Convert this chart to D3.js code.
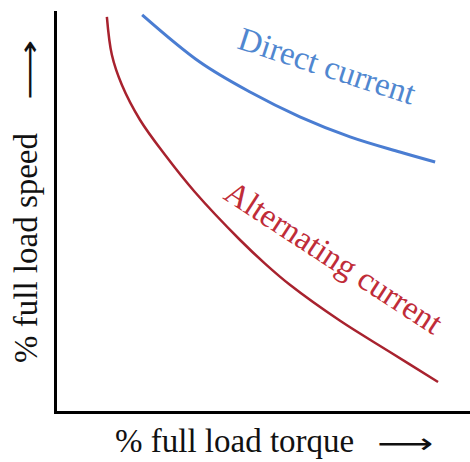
<!DOCTYPE html>
<meta charset="utf-8">
<head>
<style>
  body { margin: 0; background: #fff; }
  .axis path { stroke: #000; stroke-width: 3; fill: none; }
  .label { font-family: "Liberation Serif", "Times New Roman", Times, serif; font-size: 33px; }
  .arrow { font-family: "DejaVu Sans", sans-serif; }
</style>
</head>
<body>
<script src="https://cdnjs.cloudflare.com/ajax/libs/d3/7.8.5/d3.min.js"></script>
<script>

// % full load torque (x) and % full load speed (y)
const dcTorque = [21.0, 34.9, 47.0, 59.0, 71.1, 83.1, 91.6];
const dcSpeed  = [99.3, 87.5, 80.0, 73.8, 68.8, 65.0, 62.5];

const acTorque = [12.5, 13.7, 16.1, 20.5, 26.5, 33.7, 44.6, 50.6, 56.6, 68.7, 80.7, 92.3];
const acSpeed  = [98.8, 89.3, 81.8, 73.0, 64.3, 55.0, 43.0, 37.1, 31.8, 22.8, 15.0, 7.5];

const xLabel = "% full load torque";
const yLabel = "% full load speed";
const dcLabel = "Direct current";
const acLabel = "Alternating current";

const W = 470, H = 462;
const margin = {top: 12, right: 0, bottom: 50, left: 55};

const x = d3.scaleLinear().domain([0, 100]).range([margin.left, W - margin.right]);
const y = d3.scaleLinear().domain([0, 100]).range([H - margin.bottom, margin.top]);

const svg = d3.select("body").append("svg")
  .attr("width", W)
  .attr("height", H);

// axes: bare lines, no ticks
svg.append("g")
  .attr("class", "axis")
  .attr("transform", "translate(" + margin.left + ",0)")
  .call(d3.axisLeft(y).ticks(0).tickSizeOuter(0));

svg.append("g")
  .attr("class", "axis")
  .attr("transform", "translate(0," + (H - margin.bottom) + ")")
  .call(d3.axisBottom(x).ticks(0).tickSizeOuter(0));

svg.selectAll(".axis path").attr("stroke-linecap", "square");

const line = d3.line()
  .x(d => x(d[0]))
  .y(d => y(d[1]))
  .curve(d3.curveCatmullRom);

svg.append("path")
  .datum(d3.zip(dcTorque, dcSpeed))
  .attr("fill", "none")
  .attr("stroke", "#4a7dd2")
  .attr("stroke-width", 3)
  .attr("d", line);

svg.append("path")
  .datum(d3.zip(acTorque, acSpeed))
  .attr("fill", "none")
  .attr("stroke", "#a8222e")
  .attr("stroke-width", 2.5)
  .attr("d", line);

// curve labels
svg.append("text")
  .attr("class", "label")
  .attr("fill", "#5087d0")
  .attr("transform", "translate(236,48) rotate(18)")
  .text(dcLabel);

svg.append("text")
  .attr("class", "label")
  .attr("fill", "#c02c38")
  .attr("transform", "translate(222,198) rotate(33)")
  .text(acLabel);

// axis titles
svg.append("text")
  .attr("class", "label")
  .attr("fill", "#111")
  .attr("x", 115)
  .attr("y", 452)
  .text(xLabel);

svg.append("text")
  .attr("class", "label arrow")
  .attr("fill", "#111")
  .attr("x", 377)
  .attr("y", 453)
  .attr("textLength", 56)
  .attr("lengthAdjust", "spacingAndGlyphs")
  .style("font-size", "28px")
  .text("\u27F6");

svg.append("text")
  .attr("class", "label")
  .attr("fill", "#111")
  .attr("transform", "translate(37,363) rotate(-90)")
  .text(yLabel);

svg.append("text")
  .attr("class", "label arrow")
  .attr("fill", "#111")
  .attr("transform", "translate(39,100) rotate(-90)")
  .attr("textLength", 60)
  .attr("lengthAdjust", "spacingAndGlyphs")
  .style("font-size", "28px")
  .text("\u27F6");

</script>
</body>
